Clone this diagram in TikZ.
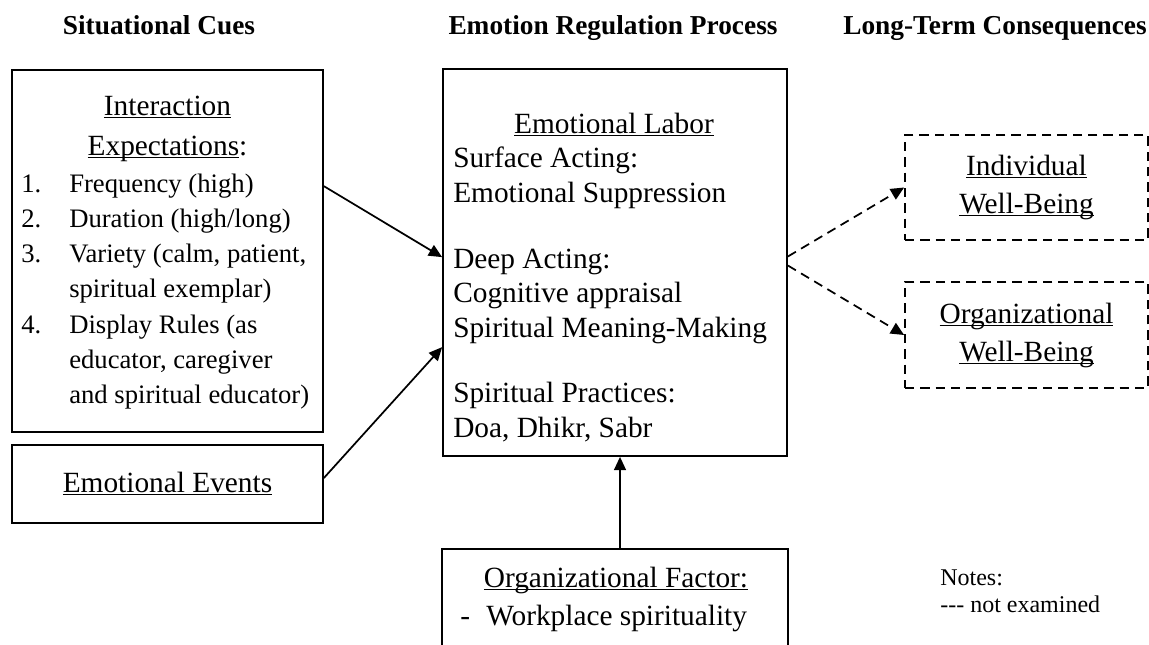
\documentclass[tikz,border=0pt]{standalone}
\usepackage{fontspec}
\setmainfont{Liberation Serif}
\usetikzlibrary{arrows.meta,calc}

\newcommand\uln[1]{{\underline{\smash{#1}}\vphantom{#1}}}

\tikzset{
  box/.style={draw, line width=1.3pt, inner sep=0pt},
  dashbox/.style={box, dash pattern=on 7pt off 4.5pt},
  txt/.style={inner sep=0pt, font=\fontsize{22}{28.5}\selectfont},
  item/.style={inner sep=0pt, font=\fontsize{20}{26}\selectfont},
  head/.style={inner sep=0pt, font=\fontsize{20.5}{24}\selectfont\bfseries},
  note/.style={inner sep=0pt, font=\fontsize{18}{20}\selectfont},
  link/.style={line width=1.3pt, -{Triangle[length=10pt,width=9pt]}},
  dashlink/.style={link, dash pattern=on 7pt off 4.5pt},
}

\begin{document}
\begin{tikzpicture}[x=0.75pt,y=-0.75pt]
  \useasboundingbox (0,0) rectangle (1149,644);

  % column headings
  \node[head, anchor=base] (hcues) at (159,34) {Situational Cues};
  \node[head, anchor=base] (hproc) at (613,34) {Emotion Regulation Process};
  \node[head, anchor=base] (hcons) at (995,34) {Long-Term Consequences};

  % situational cues
  \node[box, minimum width=233.25pt, minimum height=271.5pt] (exp) at (167.5,251) {};
  \node[txt, anchor=base] at (167.5,115) {\uln{Interaction}};
  \node[txt, anchor=base] at (167.5,155) {\uln{Expectations}:};
  \node[item, anchor=base west] at (21,192) {1.};
  \node[item, anchor=base west] at (69,192) {Frequency (high)};
  \node[item, anchor=base west] at (21,227) {2.};
  \node[item, anchor=base west] at (69,227) {Duration (high/long)};
  \node[item, anchor=base west] at (21,262) {3.};
  \node[item, anchor=base west] at (69,262) {Variety (calm, patient,};
  \node[item, anchor=base west] at (69,297) {spiritual exemplar)};
  \node[item, anchor=base west] at (21,333) {4.};
  \node[item, anchor=base west] at (69,333) {Display Rules (as};
  \node[item, anchor=base west] at (69,368) {educator, caregiver};
  \node[item, anchor=base west] at (69,403) {and spiritual educator)};

  \node[box, txt, minimum width=233.25pt, minimum height=58.5pt] (evt) at (167.5,484) {\uln{Emotional Events}};

  % emotion regulation process
  \node[box, minimum width=258pt, minimum height=290.25pt] (lab) at (615,262.5) {};
  \node[txt, anchor=base] at (614,133) {\uln{Emotional Labor}};
  \node[txt, anchor=base west] at (453,167) {Surface Acting:};
  \node[txt, anchor=base west] at (453,202) {Emotional Suppression};
  \node[txt, anchor=base west] at (453,268) {Deep Acting:};
  \node[txt, anchor=base west] at (453,302) {Cognitive appraisal};
  \node[txt, anchor=base west] at (453,337) {Spiritual Meaning-Making};
  \node[txt, anchor=base west] at (453,402) {Spiritual Practices:};
  \node[txt, anchor=base west] at (453,437) {Doa, Dhikr, Sabr};

  \node[box, minimum width=259.5pt, minimum height=83.25pt] (fac) at (615,604.5) {};
  \node[txt, anchor=base] at (616,587) {\uln{Organizational Factor:}};
  \node[txt, anchor=base west] at (460,625) {-};
  \node[txt, anchor=base west] at (486,625) {Workplace spirituality};

  % long-term consequences
  \node[dashbox, txt, align=center, minimum width=182.25pt, minimum height=78.75pt] (ind) at (1026.5,187.5)
    {\uln{Individual}\\ \uln{Well-Being}};
  \node[dashbox, txt, align=center, minimum width=182.25pt, minimum height=79.5pt] (org) at (1026.5,335)
    {\uln{Organizational}\\ \uln{Well-Being}};

  % notes
  \node[note, anchor=base west] (notes) at (940,585) {Notes:};
  \node[note, anchor=base west] (notex) at (940,612) {{-}{-}{-} not examined};

  % links
  \draw[link] ($(exp.north east)+(0,117)$) -- ($(lab.north west)+(0,189)$);
  \draw[link] ($(evt.east)+(0,-6)$) -- ($(lab.north west)+(0,279)$);
  \draw[link] ($(fac.north)+(5,0)$) -- ($(lab.south)+(5,0)$);
  \draw[dashlink] ($(lab.east)+(0,-6)$) -- (ind.west);
  \draw[dashlink] ($(lab.east)+(0,3)$) -- (org.west);
\end{tikzpicture}
\end{document}
